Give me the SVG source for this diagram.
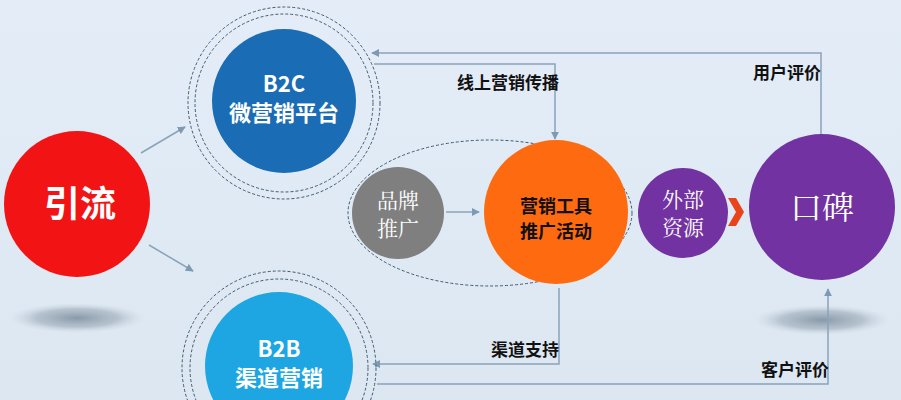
<svg xmlns="http://www.w3.org/2000/svg" width="901" height="400" viewBox="0 0 901 400">
<defs>
<linearGradient id="bg" x1="0" y1="0" x2="0" y2="1">
<stop offset="0" stop-color="#e4edf7"/>
<stop offset="1" stop-color="#dce7f2"/>
</linearGradient>
<radialGradient id="shadow">
<stop offset="0" stop-color="#8595a5" stop-opacity="0.95"/>
<stop offset="0.6" stop-color="#a0aebb" stop-opacity="0.65"/>
<stop offset="1" stop-color="#c8d3de" stop-opacity="0"/>
</radialGradient>
<marker id="ah" viewBox="0 0 10 10" refX="9" refY="5" markerWidth="8" markerHeight="8" markerUnits="userSpaceOnUse" orient="auto">
<path d="M0,0 L10,5 L0,10 Z" fill="#7d9ab3"/>
</marker>
<style>
.ln{fill:none;stroke:#8aa3ba;stroke-width:1.5}
.dash{fill:none;stroke:#3f5a70;stroke-width:1;stroke-dasharray:3 2}
.lbl{font-family:"Noto Sans CJK SC","Liberation Sans",sans-serif;font-weight:bold;font-size:17px;fill:#111;text-anchor:middle}
.wt{font-family:"Noto Sans CJK SC","Liberation Sans",sans-serif;font-weight:bold;fill:#fff;text-anchor:middle}
.sf{font-family:"Noto Serif CJK SC","Liberation Serif","Noto Sans CJK SC",serif;fill:#fff;text-anchor:middle}
</style>
</defs>
<rect width="901" height="400" fill="url(#bg)"/>
<ellipse cx="77" cy="318" rx="68" ry="15" fill="url(#shadow)"/>
<ellipse cx="822" cy="320" rx="68" ry="15" fill="url(#shadow)"/>

<g id="connectors">
<line class="ln" x1="141" y1="153" x2="185" y2="127" marker-end="url(#ah)"/>
<line class="ln" x1="149" y1="245" x2="193" y2="271" marker-end="url(#ah)"/>
<polyline class="ln" points="821,137 821,53 372,53" marker-end="url(#ah)"/>
<polyline class="ln" points="374,64 555,64 555,139" marker-end="url(#ah)"/>
<polyline class="ln" points="559,288 559,364 373,364" marker-end="url(#ah)"/>
<polyline class="ln" points="377,384 828,384 828,289" marker-end="url(#ah)"/>
<line class="ln" x1="446" y1="212" x2="479" y2="212" marker-end="url(#ah)"/>
<path d="M728,198 L736,198 L744,212 L736,226 L728,226 L736,212 Z" fill="#e8431a"/>
<text class="lbl" x="508" y="89">线上营销传播</text>
<text class="lbl" x="787" y="79">用户评价</text>
<text class="lbl" x="525" y="356">渠道支持</text>
<text class="lbl" x="795" y="376">客户评价</text>
</g>

<g id="yinliu">
<circle cx="77" cy="204" r="73" fill="#f21414"/>
<text class="wt" x="80" y="217" font-size="36">引流</text>
</g>

<g id="b2c">
<circle cx="284" cy="103" r="96" class="dash"/>
<circle cx="284" cy="103" r="89" class="dash"/>
<circle cx="284" cy="101" r="72" fill="#1a6db4"/>
<text class="wt" x="284" y="92" font-size="22">B2C</text>
<text class="wt" x="284" y="121" font-size="22">微营销平台</text>
</g>

<g id="b2b">
<circle cx="279" cy="368" r="97" class="dash"/>
<circle cx="279" cy="368" r="89" class="dash"/>
<circle cx="279" cy="366" r="74" fill="#1ea6e3"/>
<text class="wt" x="279" y="357" font-size="22">B2B</text>
<text class="wt" x="279" y="386" font-size="22">渠道营销</text>
</g>

<g id="group-ellipse">
<ellipse cx="490" cy="213" rx="142" ry="73" class="dash"/>
</g>

<g id="pinpai">
<circle cx="398" cy="213" r="46" fill="#7f7f7f"/>
<text class="sf" x="398" y="208" font-size="21">品牌</text>
<text class="sf" x="398" y="236" font-size="21">推广</text>
</g>

<g id="yingxiao">
<circle cx="556" cy="212" r="72" fill="#fd6a0f"/>
<text class="lbl" x="556" y="213" style="font-size:18px">营销工具</text>
<text class="lbl" x="556" y="238" style="font-size:18px">推广活动</text>
</g>

<g id="waibu">
<circle cx="683" cy="213" r="45" fill="#7232a1"/>
<text class="sf" x="683" y="207" font-size="21">外部</text>
<text class="sf" x="683" y="235" font-size="21">资源</text>
</g>

<g id="koubei">
<circle cx="822" cy="207" r="73" fill="#7232a1"/>
<text class="sf" x="822" y="219" font-size="32">口碑</text>
</g>
</svg>
